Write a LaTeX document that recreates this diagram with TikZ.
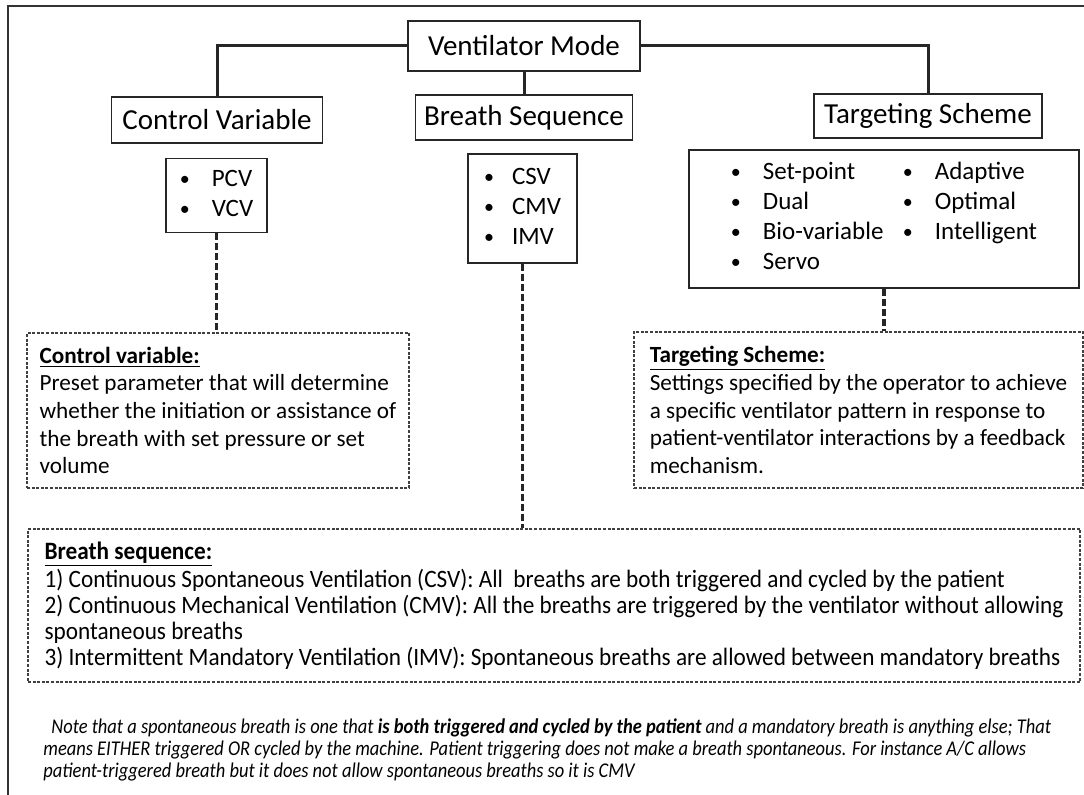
\documentclass[tikz,border=0pt]{standalone}
\usepackage{fontspec}
\setmainfont{Carlito}
\newfontfamily\condfont[FakeStretch=0.93]{Carlito}
\newfontfamily\notefont[FakeStretch=0.88]{Carlito}
\newcommand\dotitem{\raisebox{0.6pt}{\fontsize{10}{10}\selectfont\textbullet}}

\begin{document}
\begin{tikzpicture}[x=0.5pt,y=-0.5pt,
  box/.style={draw=black!85,line width=0.8pt,fill=white,inner sep=0pt},
  label/.style={box,font=\fontsize{14.5}{17}\selectfont},
  list/.style={box,font=\fontsize{12.5}{15}\selectfont},
  notebox/.style={draw=black!75,line width=0.6pt,dash pattern=on 1.5pt off 0.8pt,inner sep=0pt,align=left},
  link/.style={line width=1.5pt,black!85},
  dlink/.style={line width=1.7pt,black!85,dash pattern=on 3.5pt off 1.5pt}]
\useasboundingbox (0,0) rectangle (1084,795);
\draw [line width=1pt,black!80] (1084,6) -- (8,6) -- (8,795);

% headings
\node [label,minimum width=116pt,minimum height=25pt] (mode) at (524,46) {Ventilator Mode};
\node [label,minimum width=105.5pt,minimum height=23pt] (ctrl) at (217,120) {Control Variable};
\node [label,minimum width=108.5pt,minimum height=22.5pt] (seq) at (524,117.5) {Breath Sequence};
\node [label,minimum width=114pt,minimum height=22pt] (tgt) at (928,116) {Targeting Scheme};

% lists
\node [list,minimum width=50.5pt,minimum height=37pt] (ctrllist) at (216.5,195.5)
  {\begin{tabular}{@{}p{16pt}@{}l@{}}\dotitem&PCV\\\dotitem&VCV\end{tabular}};
\node [list,minimum width=54.5pt,minimum height=54.5pt] (seqlist) at (522.5,208.5)
  {\begin{tabular}{@{}p{14pt}@{}l@{}}\dotitem&CSV\\\dotitem&CMV\\\dotitem&IMV\end{tabular}};
\node [list,minimum width=195pt,minimum height=69pt] (tgtlist) at (884,219)
  {\begin{tabular}{@{}p{16pt}@{}p{70pt}@{}p{16pt}@{}l@{}}
   \dotitem&Set-point&\dotitem&Adaptive\\
   \dotitem&Dual&\dotitem&Optimal\\
   \dotitem&Bio-variable&\dotitem&Intelligent\\
   \dotitem&Servo&&\end{tabular}};

% definitions
\node [notebox,minimum width=191pt,minimum height=77.5pt,font=\fontsize{11.6}{13.8}\selectfont] (ctrlnote) at (218,410.5)
  {\underline{\textbf{Control variable:}}\\Preset parameter that will determine\\whether the initiation or assistance of\\the breath with set pressure or set\\volume};
\node [notebox,minimum width=224.5pt,minimum height=78pt,font=\fontsize{11.6}{13.8}\selectfont] (tgtnote) at (858.5,410)
  {\underline{\textbf{Targeting Scheme:}}\\Settings specified by the operator to achieve\\a specific ventilator pattern in response to\\patient-ventilator interactions by a feedback\\mechanism.};
\node [notebox,minimum width=526pt,minimum height=76.5pt,font=\condfont\fontsize{12.5}{13}\selectfont] (seqnote) at (554,605.5)
  {\underline{\textbf{Breath sequence:}}\\
   1) Continuous Spontaneous Ventilation (CSV): All\ \ breaths are both triggered and cycled by the patient\\
   2) Continuous Mechanical Ventilation (CMV): All the breaths are triggered by the ventilator without allowing\\
   spontaneous breaths\\
   3) Intermittent Mandatory Ventilation (IMV): Spontaneous breaths are allowed between mandatory breaths};

\node [anchor=north west,align=left,inner sep=0pt,font=\notefont\itshape\fontsize{10.5}{11}\selectfont] (note) at (43,718)
  {\hspace{4pt}Note that a spontaneous breath is one that \textbf{is both triggered and cycled by the patient} and a mandatory breath is anything else; That\\
   means EITHER triggered OR cycled by the machine. Patient triggering does not make a breath spontaneous. For instance A/C allows\\
   patient-triggered breath but it does not allow spontaneous breaths so it is CMV};

% connectors
\draw [link] (mode.west) -| (ctrl.north);
\draw [link] (mode.east) -| (tgt.north);
\draw [link] (mode.south) -- (seq.north);
\draw [dlink] (ctrllist.south) -- (ctrllist.south |- ctrlnote.north);
\draw [dlink] (seqlist.south) -- (seqlist.south |- seqnote.north);
\draw [dlink] (tgtlist.south) -- (tgtlist.south |- tgtnote.north);
\end{tikzpicture}
\end{document}
